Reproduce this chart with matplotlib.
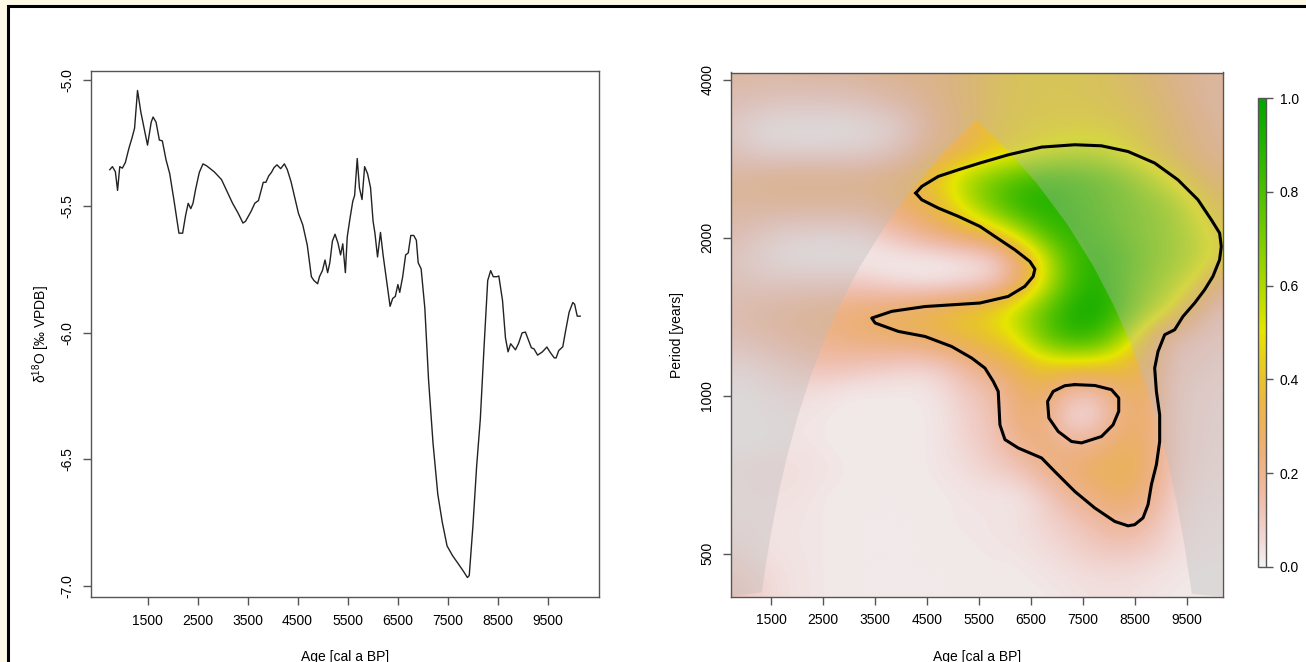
#!/usr/bin/env python3
"""d18O record (left) and its wavelet power spectrum (right)."""

import colorsys

import matplotlib

matplotlib.use("Agg")

import matplotlib.pyplot as plt
import numpy as np
from matplotlib.colors import ListedColormap
from matplotlib.patches import Rectangle

# ---------------------------------------------------------------- data
# delta 18O series
AGE = [746, 798, 857, 901, 945, 997, 1056, 1130, 1189, 1241, 1300, 1367, 1500,
       1574, 1611, 1670, 1737, 1796, 1870, 1944, 2032, 2128, 2202, 2262, 2313,
       2365, 2409, 2461, 2535, 2609, 2683, 2831, 2979, 3090, 3201, 3312, 3408,
       3459, 3570, 3644, 3718, 3777, 3814, 3866, 3925, 3977, 4029, 4088, 4162,
       4236, 4295, 4369, 4443, 4517, 4605, 4694, 4776, 4827, 4901, 4938, 4997,
       5049, 5101, 5145, 5197, 5249, 5308, 5360, 5404, 5456, 5493, 5552, 5604,
       5641, 5693, 5737, 5789, 5841, 5900, 5959, 6010, 6047, 6099, 6158, 6210,
       6269, 6350, 6402, 6454, 6506, 6543, 6602, 6661, 6713, 6764, 6823, 6875,
       6912, 6971, 7045, 7119, 7208, 7304, 7393, 7489, 7600, 7711, 7822, 7896,
       7933, 8006, 8080, 8154, 8228, 8302, 8361, 8413, 8487, 8524, 8598, 8657,
       8709, 8761, 8857, 8916, 8990, 9056, 9115, 9175, 9226, 9300, 9396, 9485,
       9544, 9633, 9670, 9722, 9803, 9855, 9929, 10003, 10040, 10092, 10151]
D18O = [-5.355, -5.343, -5.363, -5.437, -5.343, -5.349, -5.327, -5.269, -5.230,
        -5.191, -5.042, -5.128, -5.258, -5.167, -5.147, -5.167, -5.238, -5.241,
        -5.316, -5.371, -5.480, -5.606, -5.606, -5.535, -5.488, -5.509, -5.488,
        -5.433, -5.366, -5.332, -5.340, -5.363, -5.394, -5.441, -5.488, -5.527,
        -5.566, -5.559, -5.520, -5.488, -5.477, -5.433, -5.405, -5.405, -5.379,
        -5.366, -5.347, -5.336, -5.351, -5.332, -5.355, -5.402, -5.465, -5.527,
        -5.574, -5.653, -5.778, -5.793, -5.806, -5.778, -5.754, -5.712, -5.762,
        -5.723, -5.637, -5.610, -5.645, -5.692, -5.648, -5.762, -5.621, -5.543,
        -5.480, -5.457, -5.311, -5.427, -5.473, -5.343, -5.371, -5.426, -5.559,
        -5.606, -5.700, -5.603, -5.692, -5.778, -5.895, -5.864, -5.856, -5.809,
        -5.840, -5.778, -5.692, -5.684, -5.615, -5.615, -5.634, -5.723, -5.747,
        -5.903, -6.185, -6.435, -6.638, -6.748, -6.842, -6.881, -6.912, -6.944,
        -6.967, -6.959, -6.764, -6.529, -6.341, -6.059, -5.793, -5.754, -5.778,
        -5.778, -5.775, -5.872, -6.020, -6.075, -6.043, -6.067, -6.043, -6.000,
        -5.997, -6.028, -6.059, -6.063, -6.088, -6.075, -6.056, -6.075, -6.099,
        -6.099, -6.070, -6.055, -5.997, -5.919, -5.880, -5.887, -5.934, -5.934]

# wavelet power grid: columns = ages, rows = log2(period) from 12 down to 8.67
POWER_AGES = [750, 1250, 1750, 2250, 2750, 3250, 3750, 4250, 4750, 5250,
              5750, 6250, 6750, 7250, 7750, 8250, 8750, 9250, 9750, 10250]
POWER_LOG2P = [12.0, 11.833, 11.667, 11.5, 11.333, 11.167, 11.0, 10.833,
               10.667, 10.5, 10.333, 10.167, 10.0, 9.833, 9.667, 9.5, 9.333,
               9.167, 9.0, 8.833, 8.667]
POWER = [
    [0.18, 0.18, 0.18, 0.20, 0.20, 0.22, 0.24, 0.26, 0.28, 0.32, 0.38, 0.42, 0.43, 0.43, 0.42, 0.38, 0.33, 0.27, 0.22, 0.20],
    [0.14, 0.12, 0.10, 0.10, 0.10, 0.12, 0.16, 0.20, 0.27, 0.32, 0.38, 0.42, 0.43, 0.43, 0.42, 0.40, 0.36, 0.30, 0.22, 0.18],
    [0.08, 0.02, 0.01, 0.01, 0.01, 0.02, 0.04, 0.12, 0.24, 0.30, 0.40, 0.43, 0.45, 0.46, 0.46, 0.44, 0.40, 0.33, 0.26, 0.20],
    [0.12, 0.06, 0.05, 0.05, 0.05, 0.06, 0.10, 0.18, 0.28, 0.34, 0.42, 0.46, 0.52, 0.56, 0.56, 0.50, 0.42, 0.35, 0.28, 0.22],
    [0.20, 0.24, 0.26, 0.26, 0.26, 0.26, 0.28, 0.33, 0.46, 0.62, 0.72, 0.80, 0.86, 0.84, 0.80, 0.72, 0.60, 0.48, 0.36, 0.30],
    [0.20, 0.20, 0.20, 0.20, 0.20, 0.20, 0.25, 0.30, 0.38, 0.55, 0.74, 0.88, 0.92, 0.86, 0.80, 0.75, 0.70, 0.62, 0.48, 0.36],
    [0.15, 0.10, 0.06, 0.05, 0.05, 0.06, 0.12, 0.19, 0.26, 0.32, 0.40, 0.58, 0.80, 0.90, 0.84, 0.76, 0.70, 0.64, 0.54, 0.42],
    [0.10, 0.05, 0.02, 0.01, 0.01, 0.01, 0.01, 0.01, 0.01, 0.03, 0.05, 0.22, 0.50, 0.80, 0.90, 0.82, 0.72, 0.64, 0.56, 0.45],
    [0.12, 0.10, 0.10, 0.10, 0.10, 0.10, 0.06, 0.04, 0.04, 0.06, 0.10, 0.25, 0.52, 0.80, 0.92, 0.80, 0.68, 0.58, 0.45, 0.20],
    [0.15, 0.18, 0.20, 0.22, 0.24, 0.26, 0.30, 0.33, 0.37, 0.42, 0.48, 0.60, 0.76, 0.92, 0.95, 0.82, 0.62, 0.48, 0.20, 0.12],
    [0.12, 0.15, 0.18, 0.20, 0.22, 0.25, 0.27, 0.29, 0.33, 0.38, 0.42, 0.52, 0.74, 0.88, 0.84, 0.62, 0.36, 0.15, 0.12, 0.10],
    [0.05, 0.06, 0.10, 0.13, 0.14, 0.12, 0.10, 0.08, 0.10, 0.18, 0.28, 0.34, 0.44, 0.44, 0.44, 0.40, 0.30, 0.12, 0.10, 0.08],
    [0.02, 0.03, 0.05, 0.05, 0.03, 0.02, 0.02, 0.02, 0.04, 0.10, 0.14, 0.27, 0.29, 0.15, 0.15, 0.27, 0.29, 0.10, 0.08, 0.06],
    [0.02, 0.02, 0.03, 0.03, 0.02, 0.02, 0.02, 0.02, 0.03, 0.08, 0.12, 0.25, 0.24, 0.04, 0.05, 0.25, 0.27, 0.10, 0.07, 0.06],
    [0.02, 0.02, 0.03, 0.03, 0.02, 0.02, 0.02, 0.02, 0.03, 0.07, 0.11, 0.20, 0.25, 0.18, 0.22, 0.29, 0.27, 0.10, 0.07, 0.05],
    [0.04, 0.05, 0.05, 0.04, 0.03, 0.02, 0.02, 0.02, 0.03, 0.05, 0.08, 0.11, 0.20, 0.27, 0.30, 0.32, 0.27, 0.10, 0.06, 0.05],
    [0.03, 0.04, 0.04, 0.03, 0.02, 0.02, 0.02, 0.02, 0.02, 0.03, 0.03, 0.03, 0.08, 0.18, 0.25, 0.29, 0.22, 0.08, 0.05, 0.04],
    [0.04, 0.04, 0.03, 0.03, 0.02, 0.02, 0.02, 0.02, 0.02, 0.03, 0.03, 0.04, 0.07, 0.10, 0.15, 0.20, 0.15, 0.06, 0.04, 0.03],
    [0.06, 0.04, 0.03, 0.03, 0.02, 0.02, 0.02, 0.02, 0.02, 0.02, 0.03, 0.03, 0.05, 0.07, 0.10, 0.11, 0.09, 0.05, 0.03, 0.03],
    [0.10, 0.07, 0.04, 0.03, 0.02, 0.02, 0.02, 0.02, 0.02, 0.02, 0.02, 0.02, 0.03, 0.04, 0.05, 0.05, 0.04, 0.03, 0.02, 0.02],
    [0.12, 0.08, 0.04, 0.03, 0.02, 0.02, 0.02, 0.02, 0.02, 0.02, 0.02, 0.02, 0.02, 0.03, 0.04, 0.04, 0.03, 0.02, 0.02, 0.02],
]

# significance contour (outer) and the small closed loop inside it
SIG_AGE = [4283, 4398, 4717, 5102, 5519, 6063, 6706, 7346, 7859, 8371, 8884,
           9332, 9717, 9975, 10134, 10167, 10134, 10005, 9846, 9654, 9429, 9269,
           9077, 8948, 8884, 8917, 8980, 8980, 8917, 8821, 8756, 8659, 8500, 8371,
           8115, 7731, 7346, 6961, 6706, 6256, 6000, 5904, 5871, 5775, 5615, 5359,
           4975, 4461, 3948, 3500, 3436, 3821, 4461, 5519, 6063, 6384, 6544, 6577,
           6481, 6192, 5808, 5519, 5102, 4717, 4398, 4283]
SIG_PERIOD = [2433, 2505, 2618, 2695, 2776, 2878, 2977, 3008, 2994, 2920, 2776,
              2579, 2363, 2164, 2042, 1925, 1816, 1688, 1592, 1502, 1416, 1336,
              1307, 1214, 1129, 1019, 920, 818, 739, 677, 620, 585, 568, 565,
              576, 611, 657, 717, 761, 795, 825, 880, 1019, 1065, 1129, 1180,
              1241, 1297, 1326, 1376, 1406, 1448, 1479, 1502, 1546, 1616, 1688,
              1743, 1802, 1897, 2011, 2102, 2197, 2278, 2363, 2433]
HOLE_AGE = [7346, 7731, 8052, 8192, 8192, 8082, 7859, 7475, 7282, 7025, 6846,
            6821, 6929, 7154, 7346]
HOLE_PERIOD = [1050, 1046, 1027, 990, 934, 880, 836, 813, 818, 855, 907, 975,
               1019, 1045, 1050]

# cone of influence
COI_AGE = [1320, 1400, 1500, 1650, 1800, 2000, 2250, 2500, 2800, 3200, 3700,
           4200, 4800, 5440, 5480, 6000, 6600, 7200, 7700, 8100, 8400, 8700,
           8950, 9150, 9300, 9450, 9600]
COI_PERIOD = [422, 479, 550, 657, 763, 905, 1083, 1260, 1473, 1757, 2112,
              2467, 2893, 3348, 3344, 2975, 2549, 2123, 1768, 1484, 1271, 1058,
              880, 738, 632, 525, 419]

AGE_TICKS = [1500, 2500, 3500, 4500, 5500, 6500, 7500, 8500, 9500]
D18O_TICKS = [-5.0, -5.5, -6.0, -6.5, -7.0]
PERIOD_TICKS = [500, 1000, 2000, 4000]
CBAR_TICKS = [0.0, 0.2, 0.4, 0.6, 0.8, 1.0]

W, H = 1306, 662
FONT = "Liberation Sans"
TICK_COLOR = "#555555"


def fig_rect(x0, y0, x1, y1):
    """pixel box (top-left origin) -> figure fraction rect"""
    return [x0 / W, 1 - y1 / H, (x1 - x0) / W, (y1 - y0) / H]


def terrain_colors(n):
    # same recipe as R's terrain.colors()
    k = n // 2
    h = (4 / 12, 2 / 12, 0.0)
    s = (1.0, 1.0, 0.0)
    v = (0.65, 0.9, 0.95)
    cols = []
    for t in np.linspace(0, 1, k):
        cols.append(colorsys.hsv_to_rgb(h[0] + (h[1] - h[0]) * t,
                                        s[0] + (s[1] - s[0]) * t,
                                        v[0] + (v[1] - v[0]) * t))
    for t in np.linspace(0, 1, n - k + 1)[1:]:
        cols.append(colorsys.hsv_to_rgb(h[1] + (h[2] - h[1]) * t,
                                        s[1] + (s[2] - s[1]) * t,
                                        v[1] + (v[2] - v[1]) * t))
    return cols


def style_axes(ax):
    for sp in ax.spines.values():
        sp.set_color(TICK_COLOR)
        sp.set_linewidth(1.0)
    ax.tick_params(direction="out", length=6, width=1.0, color=TICK_COLOR,
                   labelsize=10, pad=6)
    for lab in ax.get_yticklabels():
        lab.set_rotation(90)
        lab.set_va("center")


def main():
    plt.rcParams["font.family"] = [FONT, "DejaVu Sans"]
    plt.rcParams["mathtext.fontset"] = "custom"
    plt.rcParams["mathtext.rm"] = FONT
    plt.rcParams["mathtext.it"] = FONT

    fig = plt.figure(figsize=(W / 100, H / 100), dpi=100, facecolor="#fef9e6")
    fig.patches.append(Rectangle((8 / W, -0.1), 1.2, 1 - 6 / H + 0.1,
                                 transform=fig.transFigure, facecolor="white",
                                 edgecolor="black", linewidth=2.2, zorder=-1))

    # ---------------- left panel: time series
    ax1 = fig.add_axes(fig_rect(91, 71, 599, 597))
    ax1.plot(AGE, D18O, color="#222222", linewidth=1.0)
    ax1.margins(x=0.04, y=0.04)
    ax1.set_xticks(AGE_TICKS)
    ax1.set_yticks(D18O_TICKS)
    ax1.set_yticklabels([f"{t:.1f}" for t in D18O_TICKS])
    ax1.set_xlabel("Age [cal a BP]", fontsize=10, labelpad=16)
    ax1.set_ylabel(r"δ$^{18}$O [‰ VPDB]", fontsize=10, labelpad=6)
    style_axes(ax1)

    # ---------------- right panel: wavelet power
    ax2 = fig.add_axes(fig_rect(731, 72.5, 1222.5, 596.7))
    cmap = ListedColormap(terrain_colors(200)[::-1])
    dx = (POWER_AGES[1] - POWER_AGES[0]) / 2
    dy = (POWER_LOG2P[0] - POWER_LOG2P[1]) / 2
    extent = [POWER_AGES[0] - dx, POWER_AGES[-1] + dx,
              POWER_LOG2P[-1] - dy, POWER_LOG2P[0] + dy]
    im = ax2.imshow(np.array(POWER), extent=extent, origin="upper",
                    aspect="auto", interpolation="bicubic", cmap=cmap,
                    vmin=0, vmax=1)
    xlim = (725, 10190)
    ylim = (np.log2(414), np.log2(4130))

    # shade outside the cone of influence
    coi_x = [xlim[0]] + COI_AGE + [xlim[1], xlim[1], xlim[0]]
    coi_y = [ylim[0]] + list(np.log2(COI_PERIOD)) + [ylim[0], ylim[1], ylim[1]]
    ax2.fill(coi_x, coi_y, color="#bcbcbc", alpha=0.36, linewidth=0)

    ax2.plot(SIG_AGE, np.log2(SIG_PERIOD), color="black", linewidth=2.2)
    ax2.plot(HOLE_AGE, np.log2(HOLE_PERIOD), color="black", linewidth=2.2)

    ax2.set_xlim(*xlim)
    ax2.set_ylim(*ylim)
    ax2.set_xticks(AGE_TICKS)
    ax2.set_yticks(np.log2(PERIOD_TICKS))
    ax2.set_yticklabels([str(p) for p in PERIOD_TICKS])
    ax2.set_xlabel("Age [cal a BP]", fontsize=10, labelpad=16)
    ax2.set_ylabel("Period [years]", fontsize=10, labelpad=12)
    style_axes(ax2)

    # ---------------- colour bar
    cax = fig.add_axes(fig_rect(1258, 98, 1266, 567))
    cb = fig.colorbar(im, cax=cax, ticks=CBAR_TICKS)
    cb.outline.set_edgecolor(TICK_COLOR)
    cb.outline.set_linewidth(1.0)
    cax.tick_params(direction="out", length=5, width=1.0, color=TICK_COLOR,
                    labelsize=10, pad=5)
    cax.set_yticklabels([f"{t:.1f}" for t in CBAR_TICKS])

    fig.savefig("out.png", dpi=100, facecolor=fig.get_facecolor())
    plt.close(fig)


if __name__ == "__main__":
    main()
